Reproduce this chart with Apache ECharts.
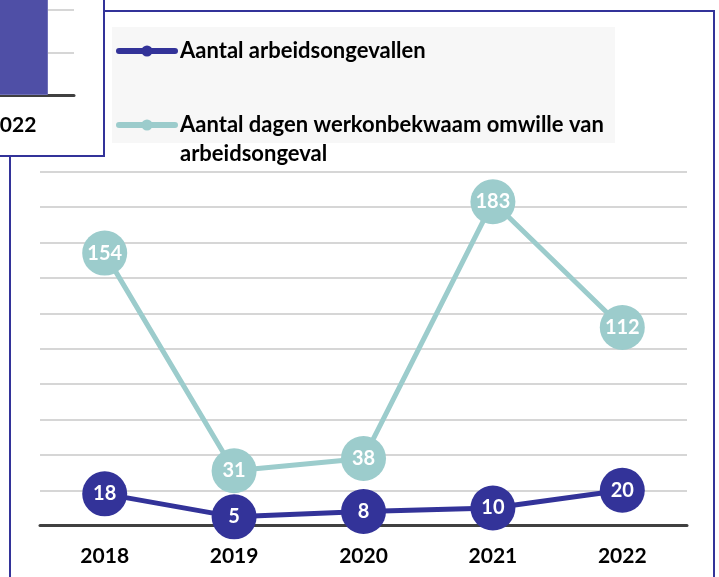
<!DOCTYPE html>
<html>
<head>
<meta charset="utf-8">
<script src="https://cdn.jsdelivr.net/npm/echarts@6/dist/echarts.min.js"></script>
<style>
  html, body { margin: 0; padding: 0; background: #fff; }
  #chart { width: 719px; height: 577px; }
</style>
</head>
<body>
<div id="chart"></div>
<script>
// main chart data
const years = ['2018', '2019', '2020', '2021', '2022'];
const ongevallen = [18, 5, 8, 10, 20];
const dagen = [154, 31, 38, 183, 112];
const seriesNames = [
  'Aantal arbeidsongevallen',
  'Aantal dagen werkonbekwaam omwille van arbeidsongeval'
];
// cropped corner of the neighbouring chart (top-left)
const prevCategories = ['2022'];
const prevValues = [9.6];

const FONT = 'Lato';
const DARK = '#333399';
const TEAL = '#9ccccc';

const chart = echarts.init(document.getElementById('chart'));

const pointLabel = {
  show: true,
  position: 'inside',
  color: '#fff',
  fontSize: 20,
  fontWeight: 'bold',
  fontFamily: FONT
};

const legendText = {
  color: '#000',
  fontSize: 22,
  fontWeight: 'bold',
  fontFamily: FONT,
  lineHeight: 29
};

const legendBase = {
  left: 116, padding: 0,
  itemWidth: 56, itemHeight: 14,
  selectedMode: false,
  lineStyle: { width: 6, cap: 'round' },
  textStyle: legendText
};

const option = {
  animation: false,
  textStyle: { fontFamily: FONT },
  graphic: [
    // frame of this chart
    { type: 'rect', z: -3, shape: { x: 10, y: 11, width: 704, height: 620 },
      style: { fill: '#fff', stroke: DARK, lineWidth: 2 } },
    // frame of the neighbouring chart lying on top
    { type: 'rect', z: -2, shape: { x: -10, y: -10, width: 114, height: 166 },
      style: { fill: '#fff', stroke: DARK, lineWidth: 2 } },
    // legend background
    { type: 'rect', z: -2, shape: { x: 112, y: 27, width: 503, height: 116 },
      style: { fill: '#f7f7f7' } }
  ],
  legend: [
    Object.assign({}, legendBase, {
      data: [seriesNames[0]],
      top: 36.5
    }),
    Object.assign({}, legendBase, {
      data: [seriesNames[1]],
      top: 81.5,
      // leading empty line keeps the icon level with the first text line
      formatter: () => '\nAantal dagen werkonbekwaam omwille van\narbeidsongeval'
    })
  ],
  grid: [
    { left: 40, right: 32, top: 171.7, bottom: 51.3, outerBoundsMode: 'none' },
    { left: -50, top: -330, width: 124, height: 425, outerBoundsMode: 'none' }
  ],
  xAxis: [
    {
      type: 'category', gridIndex: 0, data: years,
      axisTick: { show: false },
      axisLine: { lineStyle: { color: '#404040', width: 3 } },
      axisLabel: { color: '#000', fontSize: 21, fontWeight: 'bold', margin: 20 }
    },
    {
      type: 'category', gridIndex: 1, data: prevCategories,
      axisTick: { show: false },
      axisLine: { lineStyle: { color: '#404040', width: 3 } },
      axisLabel: { color: '#000', fontSize: 21, fontWeight: 'bold', margin: 20 }
    }
  ],
  yAxis: [
    {
      type: 'value', gridIndex: 0, min: 0, max: 200, interval: 20,
      axisLabel: { show: false },
      axisLine: { show: false },
      axisTick: { show: false },
      splitLine: { lineStyle: { color: '#c8c8c8', width: 1.5 } }
    },
    {
      type: 'value', gridIndex: 1, min: 0, max: 10, interval: 1,
      axisLabel: { show: false },
      axisLine: { show: false },
      axisTick: { show: false },
      splitLine: { lineStyle: { color: '#c8c8c8', width: 1.5 } }
    }
  ],
  series: [
    {
      name: seriesNames[0],
      type: 'line',
      xAxisIndex: 0, yAxisIndex: 0,
      data: ongevallen,
      symbol: 'circle', symbolSize: 45,
      lineStyle: { color: DARK, width: 5 },
      itemStyle: { color: DARK },
      label: pointLabel,
      emphasis: { disabled: true },
      z: 4
    },
    {
      name: seriesNames[1],
      type: 'line',
      xAxisIndex: 0, yAxisIndex: 0,
      data: dagen,
      symbol: 'circle', symbolSize: 45,
      lineStyle: { color: TEAL, width: 5 },
      itemStyle: { color: TEAL },
      label: pointLabel,
      emphasis: { disabled: true },
      z: 3
    },
    {
      type: 'bar',
      xAxisIndex: 1, yAxisIndex: 1,
      data: prevValues,
      barWidth: 72,
      itemStyle: { color: '#4f4fa6', borderColor: '#7070b8', borderWidth: 1 },
      emphasis: { disabled: true }
    }
  ]
};

chart.setOption(option);
</script>
</body>
</html>
